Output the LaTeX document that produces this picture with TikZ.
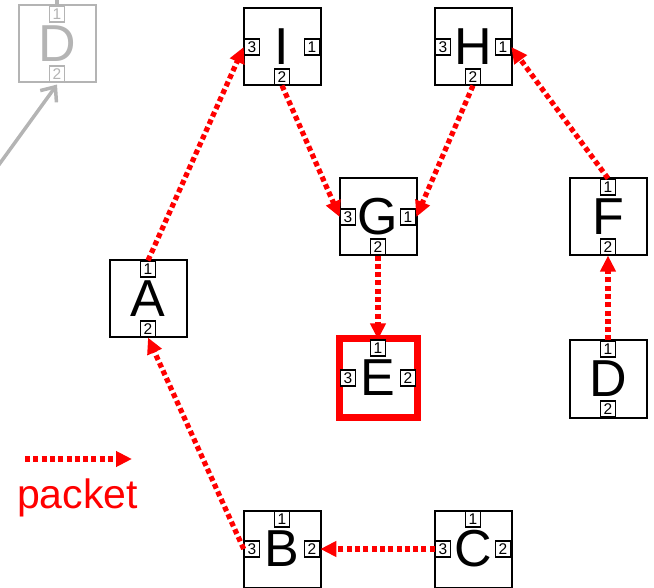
\documentclass[tikz,border=0pt]{standalone}
\usepackage{fontspec}
\setmainfont{Liberation Sans}
\usetikzlibrary{arrows.meta}
\definecolor{pkt}{RGB}{255,0,0}
\definecolor{ghost}{RGB}{180,180,180}
\tikzset{
 mainbox/.style={draw, line width=2pt, fill=white, minimum size=77pt, inner sep=0pt, font=\fontsize{52}{52}\selectfont},
 portbox/.style={draw, line width=1.6pt, fill=white, minimum width=15pt, minimum height=15.5pt, inner sep=0pt, font=\fontsize{15.5}{15.5}\selectfont},
 ghostbox/.style={draw=ghost, text=ghost},
 target/.style={draw=pkt, line width=7pt, minimum size=78pt},
 packet/.style={draw=pkt, line width=5.2pt, dash pattern=on 5pt off 3.3pt, -{Triangle[length=16pt,width=15pt]}},
 ghostarrow/.style={draw=ghost, line width=3.5pt, -{Straight Barb[length=12pt,width=20pt]}},
 legendtext/.style={text=pkt, font=\fontsize{41}{41}\selectfont, anchor=base, inner sep=0pt},
}
\begin{document}
\begin{tikzpicture}[x=1pt,y=-1pt]
\useasboundingbox (0,0) rectangle (654,588);
\clip (0,0) rectangle (654,588);
% ghost D
\node[mainbox, ghostbox] (gD) at (57,44) {D};
\node[portbox, ghostbox] (gD1) at ([yshift=30pt]gD.center) {1};
\node[portbox, ghostbox] (gD2) at ([yshift=-30pt]gD.center) {2};
% I
\node[mainbox] (I) at (282,47) {I};
\node[portbox] (I3) at ([xshift=-30pt]I.center) {3};
\node[portbox] (I1) at ([xshift=30pt]I.center) {1};
\node[portbox] (I2) at ([yshift=-30pt]I.center) {2};
% H
\node[mainbox] (H) at (473,47) {H};
\node[portbox] (H3) at ([xshift=-30pt]H.center) {3};
\node[portbox] (H1) at ([xshift=30pt]H.center) {1};
\node[portbox] (H2) at ([yshift=-30pt]H.center) {2};
% G
\node[mainbox] (G) at (378,217) {G};
\node[portbox] (G3) at ([xshift=-30pt]G.center) {3};
\node[portbox] (G1) at ([xshift=30pt]G.center) {1};
\node[portbox] (G2) at ([yshift=-30pt]G.center) {2};
% F
\node[mainbox] (F) at (608,217) {F};
\node[portbox] (F1) at ([yshift=30pt]F.center) {1};
\node[portbox] (F2) at ([yshift=-30pt]F.center) {2};
% A
\node[mainbox] (A) at (148,299) {A};
\node[portbox] (A1) at ([yshift=30pt]A.center) {1};
\node[portbox] (A2) at ([yshift=-30pt]A.center) {2};
% E
\node[mainbox, target] (E) at (378,378) {E};
\node[portbox] (E1) at ([yshift=30pt]E.center) {1};
\node[portbox] (E3) at ([xshift=-30pt]E.center) {3};
\node[portbox] (E2) at ([xshift=30pt]E.center) {2};
% D
\node[mainbox] (D) at (608,379) {D};
\node[portbox] (D1) at ([yshift=30pt]D.center) {1};
\node[portbox] (D2) at ([yshift=-30pt]D.center) {2};
% B
\node[mainbox] (B) at (282,549) {B};
\node[portbox] (B1) at ([yshift=30pt]B.center) {1};
\node[portbox] (B3) at ([xshift=-30pt]B.center) {3};
\node[portbox] (B2) at ([xshift=30pt]B.center) {2};
% C
\node[mainbox] (C) at (473,549) {C};
\node[portbox] (C1) at ([yshift=30pt]C.center) {1};
\node[portbox] (C3) at ([xshift=-30pt]C.center) {3};
\node[portbox] (C2) at ([xshift=30pt]C.center) {2};
% ghost connectors
\coordinate (gtop) at (57,-2);
\coordinate (gstart) at (-2,166);
\draw[draw=ghost, line width=3.5pt] (gD1.north) -- (gtop);
\draw[ghostarrow] (gstart) -- ([yshift=-2pt]gD2.south);
% packet path
\draw[packet] (A1.north) -- (I3.west);
\draw[packet] (I2.south) -- (G3.west);
\draw[packet] (H2.south) -- (G1.east);
\draw[packet] (F1.north) -- (H1.east);
\draw[packet] (G2.south) -- (E1.north);
\draw[packet] (D1.north) -- (F2.south);
\draw[packet] (C3.west) -- (B2.east);
\draw[packet] (B3.west) -- (A2.south);
% legend
\coordinate (legA) at (25,459);
\coordinate (legB) at (132,459);
\draw[packet] (legA) -- (legB);
\node[legendtext] (legtxt) at (77.5,508) {packet};
\end{tikzpicture}
\end{document}
